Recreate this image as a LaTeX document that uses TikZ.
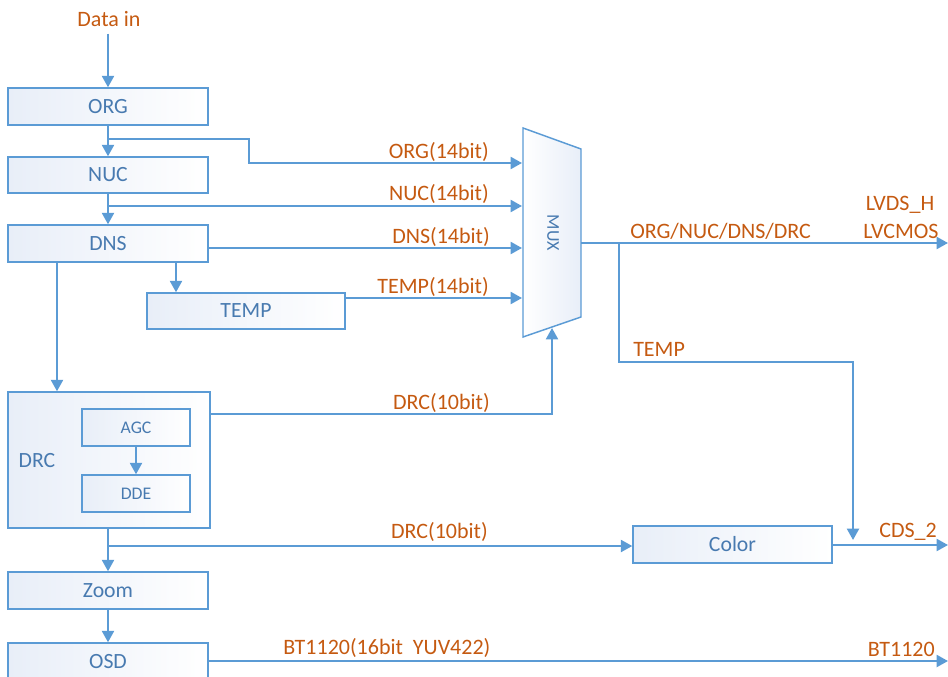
\documentclass[tikz,border=0pt]{standalone}
\usepackage{fontspec}
\setmainfont{Carlito}
\usetikzlibrary{arrows.meta,calc}
\definecolor{lineblue}{RGB}{91,155,213}
\definecolor{txtblue}{RGB}{72,122,176}
\definecolor{lblorange}{RGB}{197,90,17}
\definecolor{boxfill}{RGB}{232,238,248}
\begin{document}
\begin{tikzpicture}[x=0.75pt,y=-0.75pt,
  box/.style 2 args={draw=lineblue, line width=1.1pt, left color=boxfill, right color=white,
    minimum width=#1*0.75pt, minimum height=#2*0.75pt, inner sep=0pt, text=txtblue,
    font=\fontsize{16.3}{18}\selectfont},
  smallbox/.style 2 args={box={#1}{#2}, font=\fontsize{13.3}{15}\selectfont},
  lbl/.style={text=lblorange, inner sep=0pt, font=\fontsize{16.5}{18}\selectfont},
  conn/.style={draw=lineblue, line width=1.5pt},
  arr/.style={conn, -{Triangle[length=8.5pt,width=9pt]}}]
\clip (0,0) rectangle (948,677);
% boxes
\node[box={200}{37}] (org) at (108,106.5) {ORG};
\node[box={200}{36}] (nuc) at (108,175) {NUC};
\node[box={200}{37}] (dns) at (108,243.5) {DNS};
\node[box={198}{36}] (temp) at (246,311) {TEMP};
\node[box={202}{136}] (drc) at (109,460) {};
\node[text=txtblue, inner sep=0pt, font=\fontsize{16.3}{18}\selectfont] (drcl) at (37,461) {DRC};
\node[smallbox={108}{37}] (agc) at (136,427.5) {AGC};
\node[smallbox={108}{37}] (dde) at (136,493.5) {DDE};
\node[box={200}{37}] (zoom) at (108,590.5) {Zoom};
\node[box={200}{38}] (osd) at (108,662) {OSD};
\node[box={199}{37}] (color) at (732.5,544.5) {Color};
% MUX
\path[draw=lineblue, line width=1.1pt, left color=white, right color=boxfill]
  (523,128) -- (581,149) -- (581,317) -- (523,337) -- cycle;
\node[rotate=-90, text=txtblue, inner sep=0pt, font=\fontsize{13.5}{15}\selectfont] (mux) at (553,233) {MUX};
% coordinates
\coordinate (in1) at (522,163);
\coordinate (in2) at (522,206);
\coordinate (in3) at (522,248);
\coordinate (in4) at (522,298);
\coordinate (in5) at (552,328);
\coordinate (mout) at (581,243);
\coordinate (b1) at (108,139);
\coordinate (b2) at (108,206);
\coordinate (b3) at (619,243);
\coordinate (b4) at (108,546);
\coordinate (tx) at (176,0);
\coordinate (dx) at (57,0);
\coordinate (o1) at (948,243);
\coordinate (o2) at (948,545);
\coordinate (o3) at (948,661);
\coordinate (tdown) at (853,540);
% labels
\node[lbl] (din) at (109,19) {Data in};
\node[lbl, anchor=east] (l1) at (489,152) {ORG(14bit)};
\node[lbl, anchor=east] (l2) at (489,194) {NUC(14bit)};
\node[lbl, anchor=east] (l3) at (490,237) {DNS(14bit)};
\node[lbl, anchor=east] (l4) at (489,287) {TEMP(14bit)};
\node[lbl, anchor=east] (l5) at (490,403) {DRC(10bit)};
\node[lbl, anchor=west] (l6) at (630,231) {ORG/NUC/DNS/DRC};
\node[lbl] (l7) at (900,205) {LVDS\_H};
\node[lbl] (l8) at (901,231) {LVCMOS};
\node[lbl, anchor=west] (l9) at (633,349) {TEMP};
\node[lbl, anchor=east] (l10) at (488,532) {DRC(10bit)};
\node[lbl, anchor=west] (l11) at (879,532) {CDS\_2};
\node[lbl, anchor=west] (l12) at (283,648) {BT1120(16bit\ \ YUV422)};
\node[lbl, anchor=east] (l13) at (935,649) {BT1120};
% connectors
\draw[arr] ([yshift=-5pt]din.south -| org.north) -- (org.north);
\draw[arr] (org) -- (nuc);
\draw[arr] (b1) -- (249,139) -- (249,163) -- (in1);
\draw[arr] (nuc) -- (dns);
\draw[arr] (b2) -- (in2);
\draw[arr] (dns.east |- in3) -- (in3);
\draw[arr] (dns.south -| tx) -- (temp.north -| tx);
\draw[arr] (dns.south -| dx) -- (drc.north -| dx);
\draw[arr] (temp.east |- in4) -- (in4);
\draw[arr] (drc.east |- 0,414) -| (in5);
\draw[arr] (agc) -- (dde);
\draw[arr] (drc.south -| zoom.north) -- (zoom.north);
\draw[arr] (b4) -- (color.west |- b4);
\draw[arr] (zoom) -- (osd);
\draw[arr] (osd.east |- o3) -- (o3);
\draw[arr] (color.east |- o2) -- (o2);
\draw[arr] (mout) -- (o1);
\draw[arr] (b3) -- (619,362) -- (853,362) -- (tdown);
\end{tikzpicture}
\end{document}
